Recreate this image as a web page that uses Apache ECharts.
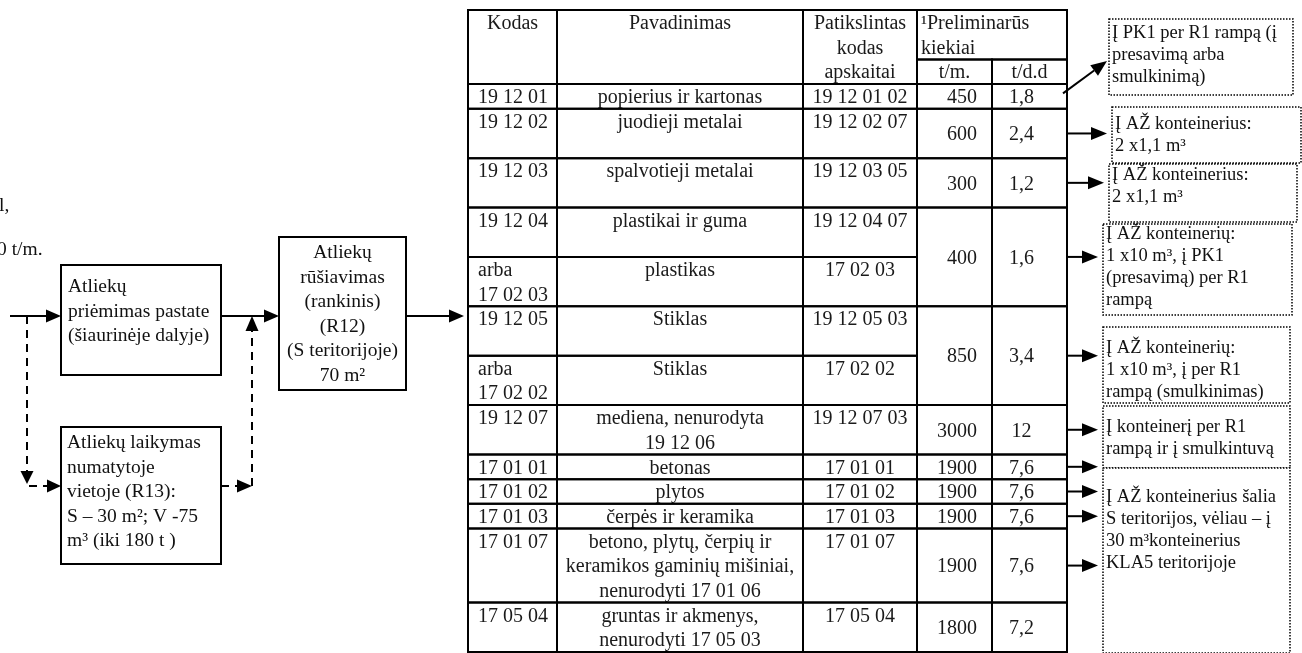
<!DOCTYPE html>
<html>
<head>
<meta charset="utf-8">
<style>
  html, body { margin: 0; padding: 0; background: #fff; }
  #main { width: 1302px; height: 653px; }
</style>
<script src="https://cdn.jsdelivr.net/npm/echarts@6/dist/echarts.min.js"></script>
</head>
<body>
<div id="main"></div>
<script>
// ---- lentelės duomenys ----
const antrastes = ["Kodas", "Pavadinimas", "Patikslintas\nkodas\napskaitai", "Preliminarūs\nkiekiai", "t/m.", "t/d.d"];
const kodai = ["19 12 01", "19 12 02", "19 12 03", "19 12 04", "arba\n17 02 03", "19 12 05", "arba\n17 02 02",
  "19 12 07", "17 01 01", "17 01 02", "17 01 03", "17 01 07", "17 05 04"];
const pavadinimai = ["popierius ir kartonas", "juodieji metalai", "spalvotieji metalai", "plastikai ir guma",
  "plastikas", "Stiklas", "Stiklas", "mediena, nenurodyta\n19 12 06", "betonas", "plytos", "čerpės ir keramika",
  "betono, plytų, čerpių ir\nkeramikos gaminių mišiniai,\nnenurodyti 17 01 06", "gruntas ir akmenys,\nnenurodyti 17 05 03"];
const patikslintiKodai = ["19 12 01 02", "19 12 02 07", "19 12 03 05", "19 12 04 07", "17 02 03", "19 12 05 03",
  "17 02 02", "19 12 07 03", "17 01 01", "17 01 02", "17 01 03", "17 01 07", "17 05 04"];
// teksto eilučių skaičius kiekvienoje lentelės eilutėje
const eiluciuSk = [1, 2, 2, 2, 2, 2, 2, 2, 1, 1, 1, 3, 2];
// kiekiai (sujungti langeliai apima kelias eilutes)
const kiekiaiTm = [450, 600, 300, 400, 850, 3000, 1900, 1900, 1900, 1900, 1800];
const kiekiaiTdd = [1.8, 2.4, 1.2, 1.6, 3.4, 12, 7.6, 7.6, 7.6, 7.6, 7.2];
const kiekiuApimtis = [1, 1, 1, 2, 2, 1, 1, 1, 1, 1, 1];
// į kurią paskirtį rodo kiekvienos kiekių grupės rodyklė (-1 = nėra)
const kiekiuPaskirtis = [0, 1, 2, 3, 4, 5, 6, 6, 6, 6, -1];
const paskirtys = [
  "Į PK1 per R1 rampą (į\npresavimą arba\nsmulkinimą)",
  "Į AŽ konteinerius:\n2 x1,1 m³",
  "Į AŽ konteinerius:\n2 x1,1 m³",
  "Į AŽ konteinerių:\n1 x10 m³, į PK1\n(presavimą) per R1\nrampą",
  "Į AŽ konteinerių:\n1 x10 m³, į per R1\nrampą (smulkinimas)",
  "Į konteinerį per R1\nrampą ir į smulkintuvą",
  "Į AŽ konteinerius šalia\nS teritorijos, vėliau – į\n30 m³konteinerius\nKLA5 teritorijoje"
];
// ---- schemos tekstai ----
const priemimas = ["Atliekų", "priėmimas pastate", "(šiaurinėje dalyje)"];
const laikymas = ["Atliekų laikymas", "numatytoje", "vietoje (R13):", "S – 30 m²; V -75", "m³ (iki 180 t )"];
const rusiavimas = ["Atliekų", "rūšiavimas", "(rankinis)", "(R12)", "(S teritorijoje)", "70 m²"];
const nukirsti = ["l,", "0 t/m."];

// ---- išdėstymas ----
const SRIFTAS = '"Liberation Serif", "Times New Roman", serif';
const stulpPlotis = [89, 246, 114, 75, 75];
const stulpX = [0];
stulpPlotis.forEach(w => stulpX.push(stulpX[stulpX.length - 1] + w));
const paskirciuDezes = [
  { x: 1109, y: 19, w: 184, h: 76, t: 33 },
  { x: 1112, y: 107, w: 189, h: 56, t: 124 },
  { x: 1109, y: 164, w: 188, h: 58, t: 175 },
  { x: 1103, y: 224, w: 189, h: 91, t: 234 },
  { x: 1103, y: 327, w: 187, h: 76, t: 348 },
  { x: 1103, y: 406, w: 187, h: 62, t: 427 },
  { x: 1103, y: 468, w: 187, h: 185, t: 497 }
];

// lentelės langeliai
const langeliai = [];
function langelis(c0, c1, y0, y1, text, lyg, vert) {
  langeliai.push({ x0: stulpX[c0], x1: stulpX[c1], y0: y0, y1: y1, text: text, lyg: lyg, vert: vert });
}
langelis(0, 1, 0, 3, antrastes[0], "center", "top");
langelis(1, 2, 0, 3, antrastes[1], "center", "top");
langelis(2, 3, 0, 3, antrastes[2], "center", "top");
langelis(3, 5, 0, 2, "¹" + antrastes[3], "left", "top");
langelis(3, 4, 2, 3, antrastes[4], "center", "middle");
langelis(4, 5, 2, 3, antrastes[5], "center", "middle");

const eilPradzia = [3];
eiluciuSk.forEach(n => eilPradzia.push(eilPradzia[eilPradzia.length - 1] + n));
kodai.forEach((k, i) => {
  const y0 = eilPradzia[i], y1 = eilPradzia[i + 1];
  langelis(0, 1, y0, y1, k, "left", "top");
  langelis(1, 2, y0, y1, pavadinimai[i], "center", "top");
  langelis(2, 3, y0, y1, patikslintiKodai[i], "center", "top");
});
const kiekiuGrupes = [];
let r = 0;
kiekiaiTm.forEach((v, g) => {
  const y0 = eilPradzia[r], y1 = eilPradzia[r + kiekiuApimtis[g]];
  r += kiekiuApimtis[g];
  kiekiuGrupes.push({ y0: y0, y1: y1, paskirtis: kiekiuPaskirtis[g] });
  langelis(3, 4, y0, y1, String(v), "right", "middle");
  langelis(4, 5, y0, y1, String(kiekiaiTdd[g]).replace(".", ","), "tdd", "middle");
});
const visoEiluciu = eilPradzia[eilPradzia.length - 1];

// pagalbinės funkcijos
function rodykle(x1, y1, x2, y2, punkt, ilg, plot) {
  ilg = ilg || 15; plot = plot || 6.5;
  const dx = x2 - x1, dy = y2 - y1, L = Math.hypot(dx, dy);
  const ux = dx / L, uy = dy / L;
  const bx = x2 - ux * ilg, by = y2 - uy * ilg;
  const linijosStilius = { stroke: "#000", lineWidth: 2 };
  if (punkt) linijosStilius.lineDash = [8, 6];
  return [
    { type: "line", shape: { x1: x1, y1: y1, x2: bx, y2: by }, style: linijosStilius },
    { type: "polygon", shape: { points: [[x2, y2], [bx - uy * plot, by + ux * plot], [bx + uy * plot, by - ux * plot]] },
      style: { fill: "#000" } }
  ];
}
function eilutes(x, yPirmos, lines, dydis, lh, align) {
  return { type: "text", style: { text: lines.join("\n"), x: x, y: yPirmos - lh / 2, font: dydis + "px " + SRIFTAS,
    fill: "#111", align: align || "left", verticalAlign: "top", lineHeight: lh } };
}
function deze(x, y, w, h, taskuota) {
  const st = { fill: "#fff", stroke: "#000", lineWidth: taskuota ? 1.5 : 2 };
  if (taskuota) st.lineDash = [1.5, 1.5];
  return { type: "rect", shape: { x: x, y: y, width: w, height: h }, style: st };
}

// schema kairėje ir paskirčių dėžės dešinėje
const grafika = [];
grafika.push({ type: "text", style: { text: nukirsti[0], x: -1, y: 206, font: "19.5px " + SRIFTAS, fill: "#111", verticalAlign: "middle" } });
grafika.push({ type: "text", style: { text: nukirsti[1], x: -3, y: 250, font: "19.5px " + SRIFTAS, fill: "#111", verticalAlign: "middle" } });
grafika.push(deze(61, 265, 160, 110));
grafika.push(eilutes(68, 287, priemimas, 19.5, 24.5));
grafika.push(deze(61, 427, 160, 137));
grafika.push(eilutes(67, 443, laikymas, 19.5, 24.5));
grafika.push(deze(279, 237, 127, 153));
grafika.push(eilutes(342.5, 253, rusiavimas, 19.5, 24.5, "center"));
rodykle(10, 316, 61, 316).forEach(e => grafika.push(e));
rodykle(27, 316, 27, 484, true, 13, 6.5).forEach(e => grafika.push(e));
rodykle(29, 486, 61, 486, true, 14, 6.5).forEach(e => grafika.push(e));
rodykle(221, 486, 252, 486, true, 15, 6.5).forEach(e => grafika.push(e));
rodykle(252, 486, 252, 316, true, 15, 6.5).forEach(e => grafika.push(e));
rodykle(221, 316, 279, 316).forEach(e => grafika.push(e));
rodykle(406, 316, 464, 316).forEach(e => grafika.push(e));
paskirciuDezes.forEach((d, i) => {
  grafika.push(deze(d.x, d.y, d.w, d.h, true));
  grafika.push(eilutes(d.x + 3, d.t, paskirtys[i].split("\n"), 18.5, 22));
});

const chart = echarts.init(document.getElementById("main"));
chart.setOption({
  backgroundColor: "#fff",
  animation: false,
  grid: { left: 468, top: 10, width: stulpX[stulpX.length - 1], height: 642 },
  xAxis: { type: "value", min: 0, max: stulpX[stulpX.length - 1], show: false },
  yAxis: { type: "value", min: 0, max: visoEiluciu, inverse: true, show: false },
  graphic: grafika,
  series: [
    {
      type: "custom",
      coordinateSystem: "cartesian2d",
      encode: { x: 0, y: 1 },
      data: langeliai.map((c, i) => [c.x0, c.y0, i]),
      renderItem: function (params, api) {
        const c = langeliai[api.value(2)];
        const p0 = api.coord([c.x0, c.y0]);
        const p1 = api.coord([c.x1, c.y1]);
        const lh = api.size([0, 1])[1];
        let tx, align = c.lyg;
        if (c.lyg === "left") tx = p0[0] + (c.x1 - c.x0 > 100 ? 4 : 10);
        else if (c.lyg === "right") tx = p1[0] - 15;
        else if (c.lyg === "tdd") { tx = (p0[0] + p1[0]) / 2 - 8; align = "center"; }
        else tx = (p0[0] + p1[0]) / 2;
        const ty = c.vert === "top" ? p0[1] + 1.5 : (p0[1] + p1[1]) / 2 + 1.5;
        return {
          type: "group",
          children: [
            { type: "rect", shape: { x: p0[0], y: p0[1], width: p1[0] - p0[0], height: p1[1] - p0[1] },
              style: { fill: "none", stroke: "#000", lineWidth: 2 } },
            { type: "text", style: { text: c.text, x: tx, y: ty, font: "20px " + SRIFTAS, fill: "#1a1a1a",
              align: align, verticalAlign: c.vert, lineHeight: lh } }
          ]
        };
      }
    },
    {
      type: "custom",
      coordinateSystem: "cartesian2d",
      encode: { x: 0, y: 1 },
      data: kiekiuGrupes.map((g, i) => [stulpX[stulpX.length - 1], (g.y0 + g.y1) / 2, i]),
      renderItem: function (params, api) {
        const g = kiekiuGrupes[api.value(2)];
        if (g.paskirtis < 0) return null;
        const start = api.coord([api.value(0), api.value(1)]);
        const d = paskirciuDezes[g.paskirtis];
        const els = g.paskirtis === 0
          ? rodykle(start[0] - 4, start[1] - 3, d.x - 2, d.y + 42, false, 16, 6.5)
          : rodykle(start[0], start[1], d.x - 5, start[1], false, 16, 6.5);
        return { type: "group", children: els };
      }
    }
  ]
});
</script>
</body>
</html>
